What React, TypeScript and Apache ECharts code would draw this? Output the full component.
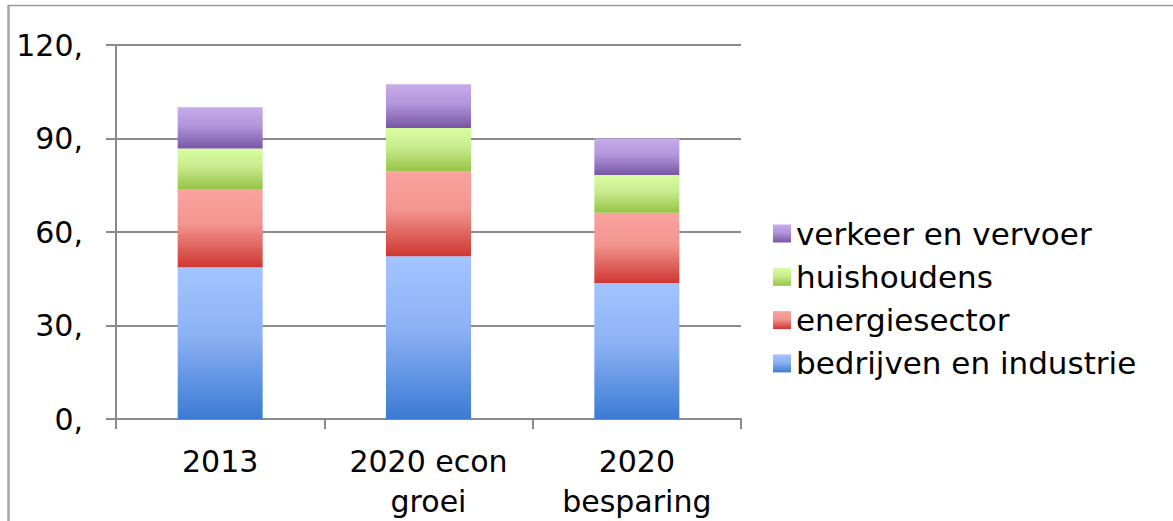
import React, { useEffect, useRef } from "react";
import * as echarts from "echarts";

const categories = ["2013", "2020 econ\ngroei", "2020\nbesparing"];
const seriesNames = ["bedrijven en industrie", "energiesector", "huishoudens", "verkeer en vervoer"];
const bedrijven = [48.7, 52.2, 43.6];
const energiesector = [25.1, 27.2, 22.6];
const huishoudens = [13.0, 14.0, 12.1];
const verkeer = [13.2, 14.0, 11.7];
const yTicks = [0, 30, 60, 90, 120];

const gradients: string[][] = [
  ["#a3c4ff", "#8cb1f4", "#3b7bd4"],
  ["#faa39e", "#f29590", "#cf3732"],
  ["#d9fda1", "#c8eb8e", "#96c447"],
  ["#c7abea", "#b295db", "#7856a4"],
];

const grad = (c: string[]) =>
  new echarts.graphic.LinearGradient(0, 0, 0, 1, [
    { offset: 0, color: c[0] },
    { offset: 0.45, color: c[1] },
    { offset: 1, color: c[2] },
  ]);

const FONT = "DejaVu Sans";
const GRAY = "#8a8a8a";

export default function App() {
  const ref = useRef<HTMLDivElement>(null);
  useEffect(() => {
    if (!ref.current) return;
    const chart = echarts.init(ref.current, null, { renderer: "svg" });
    const values = [bedrijven, energiesector, huishoudens, verkeer];
    chart.setOption({
      animation: false,
      backgroundColor: "#ffffff",
      textStyle: { fontFamily: FONT },
      grid: { left: 116, right: 432, top: 45, bottom: 100, containLabel: false },
      legend: {
        orient: "vertical",
        left: 768,
        top: 213,
        itemWidth: 18,
        itemHeight: 18,
        itemGap: 12.3,
        icon: "rect",
        data: [...seriesNames].reverse(),
        textStyle: { fontFamily: FONT, fontSize: 31, color: "#000", lineHeight: 31 },
      },
      xAxis: {
        type: "category",
        data: categories,
        axisLine: { show: true, lineStyle: { color: GRAY, width: 2 } },
        axisTick: { show: true, length: 10, alignWithLabel: false, interval: 0, lineStyle: { color: GRAY, width: 2 } },
        axisLabel: { fontFamily: FONT, fontSize: 30, color: "#000", margin: 22, lineHeight: 40, interval: 0 },
        splitLine: { show: false },
      },
      yAxis: {
        type: "value",
        min: yTicks[0],
        max: yTicks[yTicks.length - 1],
        interval: yTicks[1] - yTicks[0],
        axisLine: { show: true, lineStyle: { color: GRAY, width: 2 } },
        axisTick: { show: true, length: 10, lineStyle: { color: GRAY, width: 2 } },
        axisLabel: { fontFamily: FONT, fontSize: 30, color: "#000", margin: 33, formatter: (v: number) => `${v},` },
        splitLine: { show: true, lineStyle: { color: GRAY, width: 2 } },
      },
      series: seriesNames.map((name, i) => ({
        name,
        type: "bar",
        stack: "total",
        barWidth: 85,
        data: values[i],
        itemStyle: { color: grad(gradients[i]) },
      })),
      graphic: [
        { type: "line", shape: { x1: 8.5, y1: 5, x2: 8.5, y2: 521 }, style: { stroke: "#a6a6a6", lineWidth: 2.5 } },
        { type: "line", shape: { x1: 8, y1: 5.5, x2: 1173, y2: 5.5 }, style: { stroke: "#9a9a9a", lineWidth: 1.5 } },
      ],
    });
    return () => chart.dispose();
  }, []);
  return (
    <div
      ref={ref}
      style={{ position: "fixed", left: 0, top: 0, width: 1173, height: 521 }}
    />
  );
}
